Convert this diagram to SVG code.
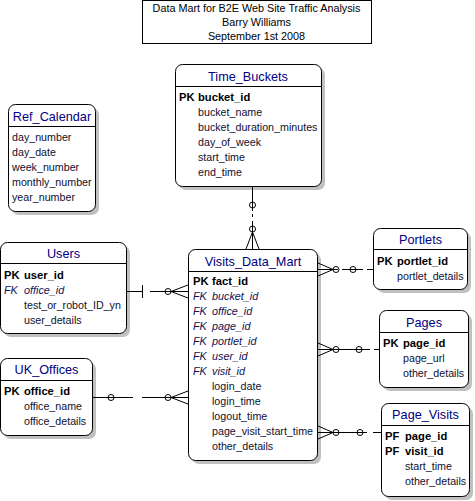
<svg xmlns="http://www.w3.org/2000/svg" width="475" height="501" viewBox="0 0 475 501">
<style>
.box{fill:#fff;stroke:#000;stroke-width:1}
.sh{fill:#c0c0c0;stroke:none}
.sep{stroke:#000;stroke-width:1}
.ttl{font-family:"Liberation Sans",Arial,sans-serif;font-size:12.7px;fill:#000080;text-anchor:middle}
.pk{font-family:"Liberation Sans",Arial,sans-serif;font-size:11.2px;font-weight:bold;fill:#000}
.fk{font-family:"Liberation Sans",Arial,sans-serif;font-size:10.8px;font-style:italic;fill:#101050}
.at{font-family:"Liberation Sans",Arial,sans-serif;font-size:10.7px;fill:#101030}
.hd{font-family:"Liberation Sans",Arial,sans-serif;font-size:10.8px;fill:#000;text-anchor:middle}
.cn line,.cn path{stroke:#000;stroke-width:1;fill:none}
.cn circle{stroke:#000;stroke-width:1;fill:none}
</style>
<rect width="475" height="501" fill="#fff"/>
<g id="title">
<rect x="142.5" y="0.5" width="229" height="43" fill="#fff" stroke="#000"/>
<text class="hd" x="256.5" y="12">Data Mart for B2E Web Site Traffic Analysis</text>
<text class="hd" x="256.5" y="26">Barry Williams</text>
<text class="hd" x="256.5" y="40">September 1st 2008</text>
</g>
<g id="Time_Buckets">
<rect class="sh" x="179" y="68" width="146" height="122" rx="7"/>
<rect class="box" x="175.5" y="64.5" width="146" height="122" rx="7"/>
<line class="sep" x1="175.5" y1="86.5" x2="321.5" y2="86.5"/>
<text class="ttl" x="248" y="80.5">Time_Buckets</text>
<text class="pk" x="179" y="101">PK</text><text class="pk" x="198" y="101">bucket_id</text>
<text class="at" x="198" y="116">bucket_name</text>
<text class="at" x="198" y="131">bucket_duration_minutes</text>
<text class="at" x="198" y="146">day_of_week</text>
<text class="at" x="198" y="161">start_time</text>
<text class="at" x="198" y="176">end_time</text>
</g>
<g id="Ref_Calendar">
<rect class="sh" x="12" y="108" width="87" height="107" rx="7"/>
<rect class="box" x="8.5" y="104.5" width="87" height="107" rx="7"/>
<line class="sep" x1="8.5" y1="126.5" x2="95.5" y2="126.5"/>
<text class="ttl" x="52" y="120.5">Ref_Calendar</text>
<text class="at" x="12" y="141">day_number</text>
<text class="at" x="12" y="156">day_date</text>
<text class="at" x="12" y="171">week_number</text>
<text class="at" x="12" y="186">monthly_number</text>
<text class="at" x="12" y="201">year_number</text>
</g>
<g id="Users">
<rect class="sh" x="4" y="246" width="126" height="91" rx="7"/>
<rect class="box" x="0.5" y="242.5" width="126" height="91" rx="7"/>
<line class="sep" x1="0.5" y1="263.5" x2="126.5" y2="263.5"/>
<text class="ttl" x="63.5" y="257.5">Users</text>
<text class="pk" x="4" y="279">PK</text><text class="pk" x="24" y="279">user_id</text>
<text class="fk" x="4" y="294">FK</text><text class="fk" x="24" y="294">office_id</text>
<text class="at" x="24" y="308.5">test_or_robot_ID_yn</text>
<text class="at" x="24" y="323.5">user_details</text>
</g>
<g id="UK_Offices">
<rect class="sh" x="4" y="362" width="92" height="77" rx="7"/>
<rect class="box" x="0.5" y="358.5" width="92" height="77" rx="7"/>
<line class="sep" x1="0.5" y1="380.5" x2="92.5" y2="380.5"/>
<text class="ttl" x="46.5" y="373.5">UK_Offices</text>
<text class="pk" x="4" y="395">PK</text><text class="pk" x="24" y="395">office_id</text>
<text class="at" x="24" y="410">office_name</text>
<text class="at" x="24" y="425">office_details</text>
</g>
<g id="Visits_Data_Mart">
<rect class="sh" x="192" y="253" width="129" height="211" rx="7"/>
<rect class="box" x="188.5" y="249.5" width="129" height="211" rx="7"/>
<line class="sep" x1="188.5" y1="271.5" x2="317.5" y2="271.5"/>
<text class="ttl" x="253" y="265.5">Visits_Data_Mart</text>
<text class="pk" x="193" y="285">PK</text><text class="pk" x="212" y="285">fact_id</text>
<text class="fk" x="193" y="300">FK</text><text class="fk" x="212" y="300">bucket_id</text>
<text class="fk" x="193" y="315">FK</text><text class="fk" x="212" y="315">office_id</text>
<text class="fk" x="193" y="330">FK</text><text class="fk" x="212" y="330">page_id</text>
<text class="fk" x="193" y="345">FK</text><text class="fk" x="212" y="345">portlet_id</text>
<text class="fk" x="193" y="360">FK</text><text class="fk" x="212" y="360">user_id</text>
<text class="fk" x="193" y="375">FK</text><text class="fk" x="212" y="375">visit_id</text>
<text class="at" x="212" y="390">login_date</text>
<text class="at" x="212" y="405">login_time</text>
<text class="at" x="212" y="420">logout_time</text>
<text class="at" x="212" y="435">page_visit_start_time</text>
<text class="at" x="212" y="450">other_details</text>
</g>
<g id="Portlets">
<rect class="sh" x="377" y="232" width="94" height="61" rx="7"/>
<rect class="box" x="373.5" y="228.5" width="94" height="61" rx="7"/>
<line class="sep" x1="373.5" y1="249.5" x2="467.5" y2="249.5"/>
<text class="ttl" x="420.5" y="243.5">Portlets</text>
<text class="pk" x="377" y="265">PK</text><text class="pk" x="397" y="265">portlet_id</text>
<text class="at" x="397" y="280">portlet_details</text>
</g>
<g id="Pages">
<rect class="sh" x="383" y="314" width="89" height="77" rx="7"/>
<rect class="box" x="379.5" y="310.5" width="89" height="77" rx="7"/>
<line class="sep" x1="379.5" y1="332.5" x2="468.5" y2="332.5"/>
<text class="ttl" x="424" y="326.5">Pages</text>
<text class="pk" x="383" y="347">PK</text><text class="pk" x="403" y="347">page_id</text>
<text class="at" x="403" y="362">page_url</text>
<text class="at" x="403" y="377">other_details</text>
</g>
<g id="Page_Visits">
<rect class="sh" x="385" y="407" width="88" height="93" rx="7"/>
<rect class="box" x="381.5" y="403.5" width="88" height="93" rx="7"/>
<line class="sep" x1="381.5" y1="425.5" x2="469.5" y2="425.5"/>
<text class="ttl" x="425.5" y="418.5">Page_Visits</text>
<text class="pk" x="385" y="440">PF</text><text class="pk" x="405" y="440">page_id</text>
<text class="pk" x="385" y="455">PF</text><text class="pk" x="405" y="455">visit_id</text>
<text class="at" x="405" y="470">start_time</text>
<text class="at" x="405" y="485">other_details</text>
</g>
<g id="connectors" class="cn">
<line x1="252.5" y1="187" x2="252.5" y2="211"/>
<line x1="252.5" y1="214" x2="252.5" y2="217"/>
<line x1="252.5" y1="221" x2="252.5" y2="249"/>
<circle cx="252.5" cy="205" r="3"/>
<circle cx="252.5" cy="229" r="3"/>
<path d="M252.5 232 L246 249 M252.5 232 L259 249"/>
<line x1="127" y1="291.5" x2="143" y2="291.5"/>
<line x1="142.5" y1="285" x2="142.5" y2="298"/>
<line x1="150" y1="291.5" x2="188" y2="291.5"/>
<circle cx="168" cy="291.5" r="3"/>
<path d="M171 291.5 L188 285 M171 291.5 L188 298"/>
<line x1="93" y1="397.5" x2="133" y2="397.5"/>
<circle cx="111" cy="397.5" r="3"/>
<line x1="142" y1="397.5" x2="188" y2="397.5"/>
<circle cx="168" cy="397.5" r="3"/>
<path d="M171 397.5 L188 391 M171 397.5 L188 404"/>
<line x1="318" y1="269.5" x2="338" y2="269.5"/>
<path d="M333 269.5 L318 263 M333 269.5 L318 276"/>
<circle cx="336" cy="269.5" r="3"/>
<line x1="342" y1="269.5" x2="363" y2="269.5"/>
<circle cx="353" cy="269.5" r="3"/>
<line x1="367" y1="269.5" x2="373" y2="269.5"/>
<line x1="318" y1="349.5" x2="370" y2="349.5"/>
<path d="M333 349.5 L318 343 M333 349.5 L318 356"/>
<circle cx="336" cy="349.5" r="3"/>
<circle cx="359" cy="349.5" r="3"/>
<line x1="374" y1="349.5" x2="379" y2="349.5"/>
<line x1="318" y1="432.5" x2="367" y2="432.5"/>
<path d="M333 432.5 L318 426 M333 432.5 L318 439"/>
<circle cx="336" cy="432.5" r="3"/>
<circle cx="360" cy="432.5" r="3"/>
<line x1="373" y1="432.5" x2="381" y2="432.5"/>
</g>
</svg>
